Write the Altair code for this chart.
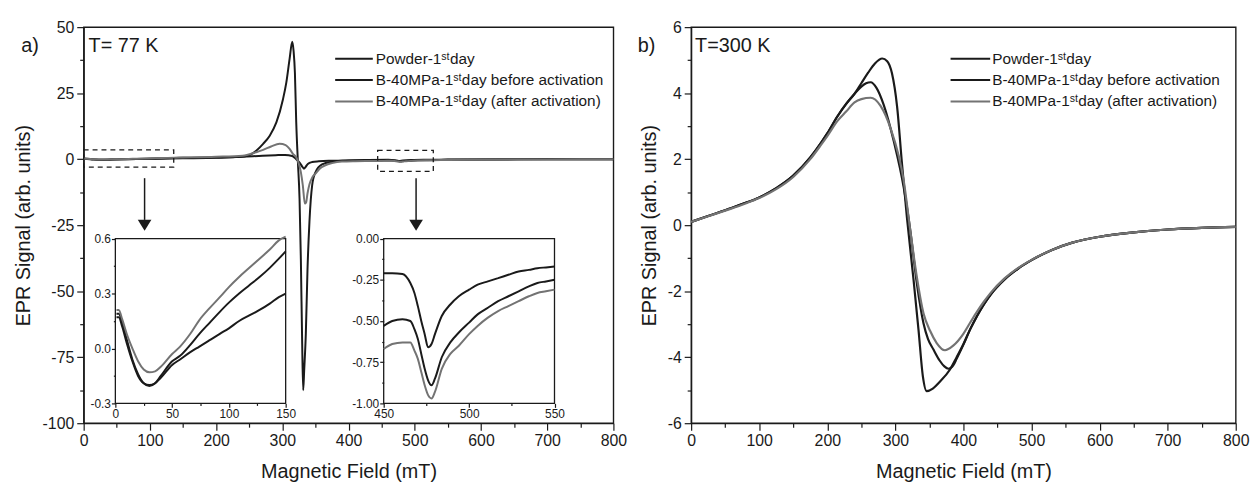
import altair as alt
import pandas as pd

SERIES = ["Powder-1ˢᵗday", "B-40MPa-1ˢᵗday before activation", "B-40MPa-1ˢᵗday (after activation)"]
COLORS = ["#1a1a1a", "#1a1a1a", "#737373"]
FONT = "Liberation Sans, Arial, Helvetica, sans-serif"
INK = "#1a1a1a"

# ---------------- panel a) T = 77 K, main curves ----------------
P77_X = [0, 5, 15, 30, 50, 80, 110, 150, 200, 230, 241, 251, 261, 271, 281, 291, 301, 306, 311, 315,
         317, 319, 321, 323.5, 326, 328, 330, 331.5, 333, 335.5, 338, 341, 345, 350, 360, 375, 400,
         430, 460, 470, 476, 482, 495, 520, 550, 600, 700, 800]
P77_Y = [0.17, 0.1, -0.1, -0.2, -0.1, 0.05, 0.15, 0.3, 0.5, 0.8, 1.0, 1.6, 3.3, 5.8, 8.9, 13.9, 22.7, 29, 38, 44.5,
         41, 32.7, 14, -1, -15, -38, -70, -87.5, -80, -66, -42, -23.5, -10, -5, -2, -1, -0.5,
         -0.3, -0.22, -0.4, -0.66, -0.5, -0.33, -0.24, -0.17, -0.1, -0.05, 0.0]

B77_X = [0, 5, 15, 30, 50, 80, 110, 150, 200, 240, 270, 290, 304, 315, 321, 326, 330, 332.6, 335, 338.5,
         345, 355, 370, 390, 420, 450, 460, 466, 472, 477, 481, 487, 495, 505, 520, 550, 600, 700, 800]
B77_Y = [0.19, 0.12, -0.08, -0.2, -0.08, 0.1, 0.25, 0.53, 0.6, 0.9, 1.3, 1.5, 1.6, 1.2, 0.0, -1.3, -2.8, -3.6, -3.0, -1.8,
         -1.1, -0.8, -0.6, -0.55, -0.5, -0.53, -0.49, -0.5, -0.65, -0.89, -0.83, -0.67, -0.57, -0.46, -0.37, -0.25, -0.15, -0.05, 0.0]

A77_X = [0, 5, 15, 27, 40, 57, 74, 92, 109, 127, 144, 150, 200, 240, 260, 271, 283, 296, 305, 311,
         316, 321, 325, 328, 331, 334, 336, 338, 341, 345, 350, 356, 365, 375, 390, 410, 430, 450,
         458, 463, 469, 474, 477, 481, 487, 494, 505, 517, 529, 540, 550, 600, 700, 800]
A77_Y = [0.21, 0.12, -0.02, -0.13, -0.08, 0.01, 0.155, 0.28, 0.39, 0.49, 0.59, 0.62, 0.9, 1.3, 2.6, 3.5, 4.8, 5.8, 5.3, 3.9,
         2.0, 0.75, -1.8, -4.9, -10, -16.8, -16.3, -13, -9.5, -7, -5.5, -3.7, -2.3, -1.5, -0.9, -0.75, -0.7, -0.67,
         -0.63, -0.63, -0.73, -0.89, -0.97, -0.91, -0.77, -0.65, -0.53, -0.44, -0.38, -0.33, -0.31, -0.2, -0.08, 0.0]

# ---------------- inset 1 (0-150 mT) ----------------
IN1_X = [1, 3, 6, 10, 15, 20, 25, 30, 35, 40, 50, 57, 66, 74, 83, 92, 100, 109, 118, 127, 136, 144, 150]
IN1_P = [0.17, 0.17, 0.12, 0.03, -0.07, -0.15, -0.19, -0.20, -0.19, -0.16, -0.09, -0.06, -0.02, 0.01, 0.045, 0.08,
         0.11, 0.15, 0.18, 0.21, 0.245, 0.28, 0.30]
IN1_B = [0.19, 0.19, 0.14, 0.05, -0.06, -0.14, -0.19, -0.205, -0.19, -0.15, -0.07, -0.04, 0.02, 0.08, 0.14, 0.2,
         0.25, 0.3, 0.345, 0.39, 0.44, 0.49, 0.53]
IN1_A = [0.21, 0.21, 0.16, 0.08, 0.0, -0.07, -0.115, -0.13, -0.125, -0.1, -0.03, 0.01, 0.08, 0.155, 0.22, 0.28,
         0.335, 0.39, 0.44, 0.49, 0.54, 0.59, 0.61]
IN1_XDOM = [0, 150]
IN1_YDOM = [-0.3, 0.6]

# ---------------- inset 2 (450-550 mT) ----------------
IN2_X = [450, 455, 461, 465.6, 468, 470, 472, 474, 476, 478, 480, 484, 489, 494, 500, 505, 511, 517, 523, 529,
         535, 540, 545, 550]
IN2_P = [-0.21, -0.21, -0.215, -0.27, -0.33, -0.41, -0.5, -0.58, -0.66, -0.64, -0.58, -0.47, -0.4, -0.35, -0.31,
         -0.28, -0.26, -0.24, -0.22, -0.2, -0.19, -0.18, -0.175, -0.17]
IN2_B = [-0.53, -0.5, -0.49, -0.5, -0.55, -0.61, -0.7, -0.79, -0.86, -0.89, -0.85, -0.72, -0.63, -0.57, -0.51,
         -0.46, -0.42, -0.38, -0.35, -0.32, -0.29, -0.27, -0.26, -0.25]
IN2_A = [-0.67, -0.64, -0.63, -0.63, -0.68, -0.73, -0.81, -0.89, -0.95, -0.97, -0.93, -0.79, -0.7, -0.65, -0.58,
         -0.53, -0.48, -0.44, -0.41, -0.38, -0.35, -0.33, -0.32, -0.31]
IN2_XDOM = [450, 550]
IN2_YDOM = [-1.0, 0.0]

# ---------------- panel b) T = 300 K ----------------
P300_X = [0, 25, 50, 75, 100, 125, 150, 175, 191, 200, 215, 228, 240, 250, 260, 270, 280.7, 288, 295, 302.5,
          309.8, 317, 326.8, 334, 340.4, 346, 355, 365, 380, 390, 400, 410, 420, 430, 440, 460, 480, 500,
          530, 560, 600, 650, 700, 750, 800]
P300_Y = [0.1, 0.28, 0.45, 0.64, 0.84, 1.12, 1.5, 2.05, 2.5, 2.78, 3.3, 3.68, 3.98, 4.3, 4.62, 4.9, 5.05, 4.97, 4.6, 3.6,
          1.84, 0.23, -1.67, -3.17, -4.58, -5.03, -4.95, -4.75, -4.38, -4.0, -3.6, -3.15, -2.75, -2.4, -2.1, -1.65, -1.32, -1.06,
          -0.75, -0.53, -0.35, -0.22, -0.13, -0.08, -0.05]

B300_X = [0, 25, 50, 75, 100, 125, 150, 175, 191, 200, 215, 228, 240, 250, 257, 263.7, 272, 283, 297.7, 312.3,
          322, 331.6, 341.3, 348, 356, 365, 372, 378, 385, 390, 400, 410, 420, 430, 440, 460, 480, 500,
          530, 560, 600, 650, 700, 750, 800]
B300_Y = [0.1, 0.28, 0.45, 0.64, 0.84, 1.12, 1.5, 2.05, 2.5, 2.78, 3.3, 3.68, 3.98, 4.2, 4.3, 4.33, 4.17, 3.64, 2.54, 1.14,
          -0.17, -1.77, -2.97, -3.45, -3.77, -4.1, -4.28, -4.35, -4.25, -4.05, -3.62, -3.15, -2.75, -2.4, -2.1, -1.65, -1.32, -1.06,
          -0.75, -0.53, -0.35, -0.22, -0.13, -0.08, -0.05]

A300_X = [0, 25, 50, 75, 100, 125, 150, 175, 191, 200, 215, 228, 240, 250, 263.7, 278, 292.8, 312.3, 322,
          331, 341.3, 351, 360.7, 372.8, 385, 399.6, 410, 420, 430, 440, 460, 480, 500, 530, 560, 600,
          650, 700, 750, 800]
A300_Y = [0.1, 0.27, 0.44, 0.62, 0.82, 1.09, 1.46, 2.0, 2.44, 2.7, 3.16, 3.45, 3.72, 3.82, 3.86, 3.62, 2.94, 1.34, -0.17,
          -1.5, -2.67, -3.2, -3.57, -3.79, -3.65, -3.3, -2.95, -2.62, -2.32, -2.05, -1.62, -1.3, -1.05, -0.75, -0.53, -0.35,
          -0.22, -0.13, -0.08, -0.05]

# ---------------- annotations (data coordinates of panel a) ----------------
BOX_X1 = [0, 444]
BOX_X2 = [136, 528]
BOX_Y1 = [-3.0, -4.6]
BOX_Y2 = [3.5, 3.3]
ARROW_X = [92, 502]
ARROW_TOP = [-7.2, -7.2]
ARROW_END = [-23.0, -23.0]
ARROW_HEAD = [-25.0, -25.0]

# ---------------- ticks ----------------
FIELD_TICKS = [0, 50, 100, 150, 200, 250, 300, 350, 400, 450, 500, 550, 600, 650, 700, 750, 800]
A_Y_TICKS = [-100, -87.5, -75, -62.5, -50, -37.5, -25, -12.5, 0, 12.5, 25, 37.5, 50]
B_Y_TICKS = [-6, -5, -4, -3, -2, -1, 0, 1, 2, 3, 4, 5, 6]
IN1_X_TICKS = [0, 25, 50, 75, 100, 125, 150]
IN1_Y_TICKS = [-0.3, -0.15, 0.0, 0.15, 0.3, 0.45, 0.6]
IN2_X_TICKS = [450, 475, 500, 525, 550]
IN2_Y_TICKS = [-1.0, -0.875, -0.75, -0.625, -0.5, -0.375, -0.25, -0.125, 0.0]

W_A, W_B, H = 535, 550, 400
IN_TOP, IN_BOTTOM = 213.5, 380
IN1_LEFT, IN1_RIGHT = 32, 204
IN2_LEFT, IN2_RIGHT = 303, 475.5


def long_df(xs_list, ys_list):
    rows = []
    for name, xs, ys in zip(SERIES, xs_list, ys_list):
        for i, (x, y) in enumerate(zip(xs, ys)):
            rows.append({"series": name, "field": x, "signal": y, "idx": i})
    return pd.DataFrame(rows)


color_enc = alt.Color("series:N", scale=alt.Scale(domain=SERIES, range=COLORS), legend=None)


def mk_axis(values, test, fmt, fs, major, minor, title="", **kw):
    return alt.Axis(
        values=values,
        labelExpr=f"({test}) ? replace(datum.label, '\u2212', '-') : ''",
        format=fmt,
        labelFontSize=fs,
        labelFont=FONT,
        tickSize={"condition": {"test": test, "value": major}, "value": minor},
        labelOverlap=False,
        labelFlush=False,
        grid=False,
        title=title,
        **kw,
    )


def lines(df, xs, ys, xa, ya, sw=2):
    return alt.Chart(df).mark_line(strokeWidth=sw, interpolate="monotone").encode(
        x=alt.X("field:Q", scale=xs, axis=xa),
        y=alt.Y("signal:Q", scale=ys, axis=ya),
        color=color_enc,
        order="idx:Q",
    )


def text_layer(txt, x, y, size, align="left"):
    return alt.Chart(pd.DataFrame({"t": [txt]})).mark_text(
        font=FONT, fontSize=size, align=align, baseline="middle", color=INK
    ).encode(text="t:N", x=alt.value(x), y=alt.value(y))


def legend_layers(x0, x1, xt, ys):
    out = []
    for name, col, yy in zip(SERIES, COLORS, ys):
        out.append(alt.Chart(pd.DataFrame({"t": [name]})).mark_rule(strokeWidth=2, color=col).encode(
            x=alt.value(x0), x2=alt.value(x1), y=alt.value(yy)))
        out.append(text_layer(name, xt, yy, 15.5))
    return out


def rect_layer(x1, x2, y1, y2, xs, ys, dash=None):
    kw = dict(fillOpacity=0, stroke=INK, strokeWidth=1.3)
    if dash:
        kw["strokeDash"] = dash
    return alt.Chart(pd.DataFrame({"x1": x1, "x2": x2, "y1": y1, "y2": y2})).mark_rect(**kw).encode(
        x=alt.X("x1:Q", scale=xs, axis=None), x2="x2:Q",
        y=alt.Y("y1:Q", scale=ys, axis=None), y2="y2:Q",
    )


# ---------- panel a ----------
def xs_a():
    return alt.Scale(domain=[0, 800], nice=False, zero=False)


def ys_a():
    return alt.Scale(domain=[-100, 50], nice=False, zero=False)


main_lines = lines(
    long_df([P77_X, B77_X, A77_X], [P77_Y, B77_Y, A77_Y]), xs_a(), ys_a(),
    mk_axis(FIELD_TICKS, "datum.value % 100 === 0", "d", 16, 7, 4, "Magnetic Field (mT)",
            titleY=39, titleX=W_A / 2, labelPadding=3),
    mk_axis(A_Y_TICKS, "datum.value % 25 === 0", "d", 16, 7, 4, "EPR Signal (arb. units)",
            titleX=-51, titleY=H / 2, labelPadding=3),
)

boxes = rect_layer(BOX_X1, BOX_X2, BOX_Y1, BOX_Y2, xs_a(), ys_a(), dash=[5, 4])

arrow_df = pd.DataFrame({"ax": ARROW_X, "at": ARROW_TOP, "ae": ARROW_END, "ah": ARROW_HEAD})
arrow_rules = alt.Chart(arrow_df).mark_rule(strokeWidth=1.5, color=INK).encode(
    x=alt.X("ax:Q", scale=xs_a(), axis=None),
    y=alt.Y("at:Q", scale=ys_a(), axis=None), y2="ae:Q",
)
arrow_heads = alt.Chart(arrow_df).mark_point(
    shape="M-1,-0.8L1,-0.8L0,0.8Z", filled=True, size=190, color=INK, opacity=1
).encode(
    x=alt.X("ax:Q", scale=xs_a(), axis=None),
    y=alt.Y("ah:Q", scale=ys_a(), axis=None),
)

# inset 1
def xs_i1():
    return alt.Scale(domain=IN1_XDOM, range=[IN1_LEFT, IN1_RIGHT], nice=False, zero=False)


def ys_i1():
    return alt.Scale(domain=IN1_YDOM, range=[IN_BOTTOM, IN_TOP], nice=False, zero=False)


frame1 = rect_layer([IN1_XDOM[0]], [IN1_XDOM[1]], [IN1_YDOM[0]], [IN1_YDOM[1]], xs_i1(), ys_i1())
in1_lines = lines(
    long_df([IN1_X] * 3, [IN1_P, IN1_B, IN1_A]), xs_i1(), ys_i1(),
    mk_axis(IN1_X_TICKS, "datum.value % 50 === 0", "d", 12, 4, 2, "",
            orient="bottom", offset=-(H - IN_BOTTOM), labelPadding=1, domain=False),
    mk_axis(IN1_Y_TICKS, "round(datum.value * 100) % 30 === 0", ".1f", 12, 4, 2, "",
            orient="left", offset=-IN1_LEFT, labelPadding=1, domain=False),
)

# inset 2
def xs_i2():
    return alt.Scale(domain=IN2_XDOM, range=[IN2_LEFT, IN2_RIGHT], nice=False, zero=False)


def ys_i2():
    return alt.Scale(domain=IN2_YDOM, range=[IN_BOTTOM, IN_TOP], nice=False, zero=False)


frame2 = rect_layer([IN2_XDOM[0]], [IN2_XDOM[1]], [IN2_YDOM[0]], [IN2_YDOM[1]], xs_i2(), ys_i2())
in2_lines = lines(
    long_df([IN2_X] * 3, [IN2_P, IN2_B, IN2_A]), xs_i2(), ys_i2(),
    mk_axis(IN2_X_TICKS, "datum.value % 50 === 0", "d", 12, 4, 2, "",
            orient="bottom", offset=-(H - IN_BOTTOM), labelPadding=1, domain=False),
    mk_axis(IN2_Y_TICKS, "round(datum.value * 1000) % 250 === 0", ".2f", 12, 4, 2, "",
            orient="left", offset=-IN2_LEFT, labelPadding=1, domain=False),
)

panel_a = alt.layer(
    main_lines, boxes, arrow_rules, arrow_heads,
    frame1, in1_lines, frame2, in2_lines,
    text_layer("a)", -63, 19, 20),
    text_layer("T= 77 K", 5, 19, 20),
    *legend_layers(254, 292, 295, [32, 53.5, 75]),
).resolve_scale(x="independent", y="independent").properties(width=W_A, height=H)

# ---------- panel b ----------
xs_b = alt.Scale(domain=[0, 800], nice=False, zero=False)
ys_b = alt.Scale(domain=[-6, 6], nice=False, zero=False)
lines_b = lines(
    long_df([P300_X, B300_X, A300_X], [P300_Y, B300_Y, A300_Y]), xs_b, ys_b,
    mk_axis(FIELD_TICKS, "datum.value % 100 === 0", "d", 16, 7, 4, "Magnetic Field (mT)",
            titleY=39, titleX=W_B / 2, labelPadding=3),
    mk_axis(B_Y_TICKS, "datum.value % 2 === 0", "d", 16, 7, 4, "EPR Signal (arb. units)",
            titleX=-31.5, titleY=H / 2, labelPadding=3),
    sw=2.2,
)
panel_b = alt.layer(
    lines_b,
    text_layer("b)", -54, 19, 20),
    text_layer("T=300 K", 4, 19, 20),
    *legend_layers(262, 302, 304, [32, 53.5, 75]),
).properties(width=W_B, height=H)

chart = alt.hconcat(panel_a, panel_b, spacing=78.5, bounds="flush").properties(
    padding={"left": 12.5, "top": 16, "right": 10, "bottom": 0},
    background="white",
).configure_view(
    stroke=INK, strokeWidth=1.4
).configure_axis(
    labelFont=FONT, titleFont=FONT, labelColor=INK, titleColor=INK,
    tickColor=INK, domainColor=INK, tickWidth=1.2, domainWidth=1.3,
    titleFontSize=20, titleFontWeight="normal",
)

chart.save("out.html", embed_options={"renderer": "svg", "actions": False})
